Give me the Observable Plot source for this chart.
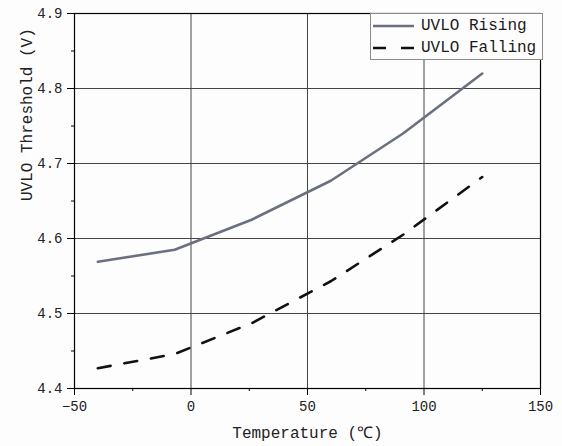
<!DOCTYPE html>
<html><head><meta charset="utf-8">
<script src="https://cdn.jsdelivr.net/npm/d3@7"></script>
<script src="https://cdn.jsdelivr.net/npm/@observablehq/plot@0.6"></script>
<style>
body{margin:0;background:#fff;}
#wrap{position:relative;width:562px;height:446px;font-family:"Liberation Mono",monospace;background:#fefdfd;}
#legend{position:absolute;left:370px;top:13px;width:171px;height:45px;border:1px solid #8a8a8a;background:#fefdfd;}
.row{position:absolute;left:0;height:22px;width:171px;}
.row svg{position:absolute;left:1px;top:0;}
.row span{position:absolute;left:50px;top:1px;font-size:16px;line-height:20px;color:#1a1a1a;white-space:pre;}
</style></head><body><div id="wrap"></div>
<script>
const temperatures = [-40, -7, 26, 60, 91, 125];
const risingV = [4.569, 4.585, 4.625, 4.677, 4.740, 4.820];
const fallingV = [4.427, 4.446, 4.487, 4.543, 4.605, 4.682];
const seriesNames = ["UVLO Rising", "UVLO Falling"];
const xTicks = [-50, 0, 50, 100, 150];
const xMinor = [-25, 25, 75, 125];
const xGrid = [0, 50, 100];
const yTicks = [4.4, 4.5, 4.6, 4.7, 4.8, 4.9];
const yMinor = [4.45, 4.55, 4.65, 4.75, 4.85];
const yGrid = [4.5, 4.6, 4.7, 4.8];
const xLabel = "Temperature (℃)";
const yLabel = "UVLO Threshold (V)";

const rising = temperatures.map((t, i) => ({t, v: risingV[i]}));
const falling = temperatures.map((t, i) => ({t, v: fallingV[i]}));
const risingColor = "#6b7080";
const fallingColor = "#111111";

const chart = Plot.plot({
  width: 562, height: 446,
  marginLeft: 74, marginRight: 22, marginTop: 13, marginBottom: 58,
  x: {domain: [-50, 150]},
  y: {domain: [4.4, 4.9]},
  style: {fontFamily: '"Liberation Mono", monospace', fontSize: "14px", background: "transparent", color: "#222", overflow: "visible"},
  marks: [
    Plot.gridX(xGrid, {stroke: "#444", strokeOpacity: 1, strokeWidth: 1}),
    Plot.gridY(yGrid, {stroke: "#444", strokeOpacity: 1, strokeWidth: 1}),
    Plot.axisX({ticks: xTicks, tickSize: 7, tickPadding: 6, label: null, stroke: "#000", fill: "#222", fontSize: 14,
      tickFormat: d => String(d).replace("-", "−")}),
    Plot.axisX({ticks: xMinor, tickSize: 3, tickFormat: () => "", label: null, stroke: "#000"}),
    Plot.axisY({ticks: yTicks, tickSize: 7, tickPadding: 5, label: null, stroke: "#000", fill: "#222", fontSize: 14,
      tickFormat: d3.format(".1f")}),
    Plot.axisY({ticks: yMinor, tickSize: 3, tickFormat: () => "", label: null, stroke: "#000"}),
    Plot.frame({stroke: "#000", strokeWidth: 1.2}),
    Plot.line(rising, {x: "t", y: "v", stroke: risingColor, strokeWidth: 2.6}),
    Plot.line(falling, {x: "t", y: "v", stroke: fallingColor, strokeWidth: 2.6, strokeDasharray: "13,14"}),
    Plot.text([xLabel], {frameAnchor: "bottom", dy: 49, fontSize: 16, fill: "#222", text: d => d}),
    Plot.text([yLabel], {frameAnchor: "left", dx: -48, rotate: -90, fontSize: 16, fill: "#222", text: d => d})
  ]
});
const wrap = document.getElementById("wrap");
wrap.appendChild(chart);

const legend = document.createElement("div");
legend.id = "legend";
const styles = [
  {color: risingColor, dash: null},
  {color: fallingColor, dash: "13,15"}
];
seriesNames.forEach((name, i) => {
  const row = document.createElement("div");
  row.className = "row";
  row.style.top = (i === 0 ? 1 : 23) + "px";
  const s = styles[i];
  row.innerHTML = `<svg width="44" height="22"><line x1="1" x2="42" y1="11" y2="11" stroke="${s.color}" stroke-width="2.6" ${s.dash ? `stroke-dasharray="${s.dash}"` : ""}/></svg><span>${name}</span>`;
  legend.appendChild(row);
});
wrap.appendChild(legend);
</script>
</body></html>
